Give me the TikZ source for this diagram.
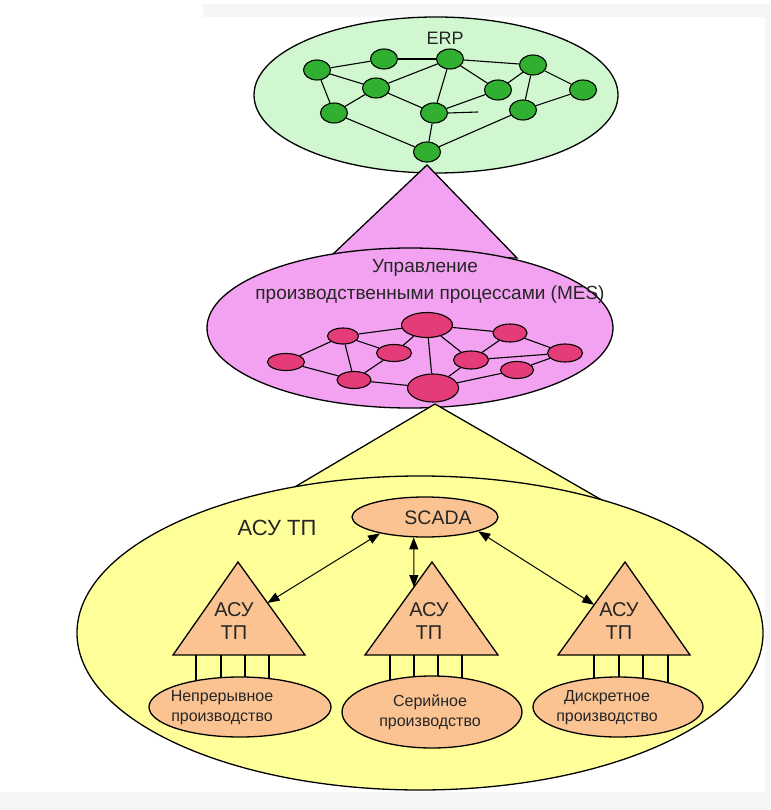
\documentclass[tikz,border=0pt]{standalone}
\usepackage{fontspec}
\setmainfont{Liberation Sans}
\usetikzlibrary{shapes.geometric,arrows.meta,calc}
\definecolor{erpfill}{RGB}{208,247,208}
\definecolor{gnode}{RGB}{48,175,48}
\definecolor{mesfill}{RGB}{242,162,240}
\definecolor{pnode}{RGB}{228,60,120}
\definecolor{yfill}{RGB}{255,255,153}
\definecolor{peach}{RGB}{250,195,145}
\definecolor{band}{RGB}{246,246,248}
\begin{document}
\begin{tikzpicture}[x=1pt,y=-1pt,
  outline/.style={draw=black,line width=1.3pt},
  bigell/.style={ellipse,outline,inner sep=0pt},
  gn/.style={ellipse,draw=black,line width=1.1pt,fill=gnode,minimum width=27pt,minimum height=20pt,inner sep=0pt},
  pn/.style={ellipse,draw=black,line width=1.1pt,fill=pnode,minimum width=34pt,minimum height=17pt,inner sep=0pt},
  pbig/.style={pn,minimum width=51pt,minimum height=27pt},
  pell/.style={ellipse,outline,fill=peach,inner sep=0pt},
  tri/.style={fill=peach,draw=black,line width=1.3pt,line join=miter},
  edge/.style={draw=black,line width=1.1pt},
  lbl/.style={inner sep=0pt,align=center,text=black!85},
  dbl/.style={line width=1pt,{Triangle[length=12pt,width=9pt]}-{Triangle[length=12pt,width=9pt]}}
]
\useasboundingbox (0,0) rectangle (770,810);
\fill[white] (0,0) rectangle (770,810);
\fill[band] (0,792) rectangle (770,810);
\fill[band] (203,4) rectangle (770,17);
\fill[band] (765,17) rectangle (770,792);

% ---------- ERP ----------
\node[bigell,fill=erpfill,minimum width=364pt,minimum height=156pt] (erp) at (436,95) {};
\node[lbl,font=\fontsize{18pt}{20pt}\selectfont] (erpt) at (445,38) {ERP};
\node[gn] (n1) at (317,70) {};
\node[gn] (n2) at (384,59) {};
\node[gn] (n3) at (450,59) {};
\node[gn] (n4) at (533,65) {};
\node[gn] (n5) at (376,88) {};
\node[gn] (n6) at (498,90) {};
\node[gn] (n7) at (583,90) {};
\node[gn] (n8) at (334,113) {};
\node[gn] (n9) at (434,113) {};
\node[gn] (n10) at (523,110) {};
\node[gn] (n11) at (427,152) {};
\coordinate (stub) at (478,112);
\foreach \a/\b in {n1/n2,n2/n3,n3/n4,n1/n5,n1/n8,n5/n3,n5/n8,n5/n9,n3/n9,n3/n6,n4/n6,n4/n7,n4/n10,n6/n9,n9/n11,n8/n11,n10/n11,n7/n10}
  \draw[edge] (\a) -- (\b);
\draw[edge] (n9.east) -- (stub);

% ---------- MES ----------
\coordinate (pa) at (427,165);
\coordinate (pl) at (332,255);
\coordinate (pr) at (517,258);
\path[fill=mesfill,outline] (pa) -- (pl) -- (pr) -- cycle;
\node[bigell,fill=mesfill,minimum width=406pt,minimum height=160pt] (mes) at (410,328) {};
\node[lbl,font=\fontsize{19pt}{22pt}\selectfont] (mest1) at (425,268) {Управление};
\node[lbl,font=\fontsize{19pt}{22pt}\selectfont] (mest2) at (430,295) {производственными процессами (MES)};
\node[pn,minimum width=31pt,minimum height=16pt] (m1) at (343,336) {};
\node[pbig,minimum height=25pt] (m2) at (427,325) {};
\node[pn,minimum height=18pt] (m3) at (510,333) {};
\node[pn,minimum width=37pt] (m4) at (286,362) {};
\node[pn,minimum width=35pt] (m5) at (394,353) {};
\node[pn,minimum width=35pt,minimum height=18pt] (m6) at (471,360) {};
\node[pn,minimum width=35pt,minimum height=18pt] (m7) at (565,353) {};
\node[pn] (m8) at (354,380) {};
\node[pn,minimum width=33pt] (m9) at (517,370) {};
\node[pbig,minimum height=28pt] (m10) at (433,388) {};
\foreach \a/\b in {m1/m2,m2/m3,m1/m4,m1/m5,m1/m8,m2/m5,m2/m6,m3/m6,m3/m7,m2/m10,m4/m8,m5/m8,m8/m10,m6/m7,m6/m10,m9/m10,m9/m7}
  \draw[edge] (\a) -- (\b);

% ---------- ASU TP ----------
\coordinate (ya) at (435,404);
\coordinate (yl) at (293,488);
\coordinate (yr) at (600,499);
\path[fill=yfill,outline] (ya) -- (yl) -- (yr) -- cycle;
\node[bigell,fill=yfill,minimum width=686pt,minimum height=314pt] (asu) at (420,633) {};
\node[lbl,font=\fontsize{22pt}{24pt}\selectfont] (asut) at (277,528) {АСУ ТП};

\node[pell,minimum width=146pt,minimum height=40pt] (scada) at (425,517) {};
\node[lbl,font=\fontsize{19.5pt}{22pt}\selectfont] (scadat) at (438,518) {SCADA};

% small triangles
\coordinate (t1a) at (238,562); \coordinate (t1l) at (173,655); \coordinate (t1r) at (305,655);
\coordinate (t2a) at (432,562); \coordinate (t2l) at (365,655); \coordinate (t2r) at (498,655);
\coordinate (t3a) at (625,562); \coordinate (t3l) at (558,655); \coordinate (t3r) at (690,655);
\foreach \t in {t1,t2,t3}
  \path[tri] (\t a) -- (\t l) -- (\t r) -- cycle;
\node[lbl,font=\fontsize{20pt}{23pt}\selectfont] (t1t) at (234,621) {АСУ\\ТП};
\node[lbl,font=\fontsize{20pt}{23pt}\selectfont] (t2t) at (429,621) {АСУ\\ТП};
\node[lbl,font=\fontsize{20pt}{23pt}\selectfont] (t3t) at (619,621) {АСУ\\ТП};

% legs
\foreach \x in {196,221,245,269,390,414,438,462,594,619,643,668}
  \draw[edge] (\x,655) -- (\x,692);

% production ellipses
\node[pell,minimum width=182pt,minimum height=60pt] (e1) at (240,707) {};
\node[pell,minimum width=180pt,minimum height=72pt] (e2) at (432,712) {};
\node[pell,minimum width=170pt,minimum height=60pt] (e3) at (618,707) {};
\node[lbl,font=\fontsize{16pt}{20pt}\selectfont] (e1t) at (222,708) {Непрерывное\\производство};
\node[lbl,font=\fontsize{16pt}{20pt}\selectfont] (e2t) at (430,712) {Серийное\\производство};
\node[lbl,font=\fontsize{16pt}{20pt}\selectfont] (e3t) at (607,708) {Дискретное\\производство};

% arrows
\draw[dbl] (scada.200) -- ($(t1a)!0.44!(t1r)$);
\draw[dbl] (scada.241) -- ($(t2a)!0.27!(t2l)$);
\draw[dbl] (scada.345) -- ($(t3a)!0.46!(t3l)$);
\end{tikzpicture}
\end{document}
